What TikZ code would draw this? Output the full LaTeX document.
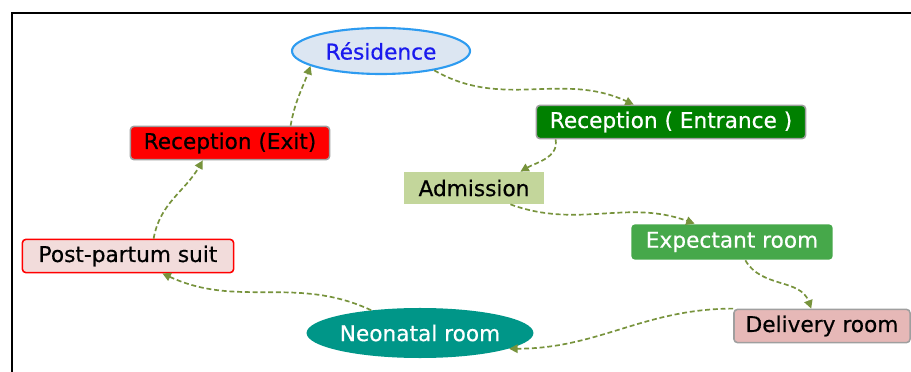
\documentclass[tikz,border=0pt]{standalone}
\usepackage{fontspec}
\setmainfont{DejaVu Sans}
\newfontfamily\roomfont{DejaVu Sans}[FakeBold=0.5]
\usetikzlibrary{shapes.geometric,arrows.meta}

\definecolor{flowgreen}{HTML}{77933C}
\definecolor{resfill}{HTML}{DCE6F2}
\definecolor{resline}{HTML}{2D9BF0}
\definecolor{restext}{HTML}{1A1AEE}
\definecolor{entrfill}{HTML}{008000}
\definecolor{admfill}{HTML}{C3D69B}
\definecolor{expfill}{HTML}{46A84A}
\definecolor{postfill}{HTML}{F2DCDB}
\definecolor{neofill}{HTML}{009688}
\definecolor{delfill}{HTML}{E6B8B7}

\tikzset{
    room/.style={rectangle, draw=gray!75, line width=1.1pt, rounded corners=2.5pt, inner sep=0pt, minimum height=0.83cm, font=\roomfont\fontsize{15.4}{18}\selectfont},
    hall/.style={ellipse, inner sep=0pt, font=\roomfont\fontsize{15.4}{18}\selectfont},
    flow/.style={draw=flowgreen, line width=1.2pt, dash pattern=on 3.5pt off 2pt, -{Triangle[length=6pt,width=6pt]}},
}

\begin{document}
\begin{tikzpicture}[x=0.025cm,y=-0.025cm]
    \useasboundingbox (0,0) rectangle (911,372);
    \draw[line width=1.4pt] (911,13) -- (12,13) -- (12,372);

    \node[hall, fill=resfill, draw=resline, line width=1.5pt, text=restext, minimum width=4.45cm, minimum height=1.15cm] (res) at (381,51) {Résidence};
    \node[room, fill=entrfill, text=white, minimum width=6.73cm] (entrance) at (671,122) {Reception ( Entrance )};
    \node[room, fill=red, minimum width=4.98cm] (exit) at (230,143) {Reception (Exit)};
    \node[room, fill=admfill, draw=none, rounded corners=0pt, minimum width=3.48cm, minimum height=0.78cm] (admission) at (474,188) {Admission};
    \node[room, fill=expfill, draw=none, text=white, minimum width=5.03cm, minimum height=0.88cm] (expectant) at (732,242) {Expectant room};
    \node[room, fill=postfill, draw=red, minimum width=5.28cm] (postpartum) at (128,256) {Post-partum suit};
    \node[hall, fill=neofill, text=white, minimum width=5.18cm, minimum height=1.25cm] (neonatal) at (420,333) {Neonatal room};
    \node[room, fill=delfill, minimum width=4.4cm] (delivery) at (822,326) {Delivery room};

    \draw[flow] (res.-20) to[out=-30,in=155] (entrance.155);
    \draw[flow] ([xshift=0.5cm]entrance.south west) to[out=-80,in=30] ([xshift=-0.6cm]admission.north east);
    \draw[flow] ([xshift=-0.85cm]admission.south east) to[out=-20,in=160] ([xshift=1.6cm]expectant.north west);
    \draw[flow] ([xshift=-2.2cm]expectant.south east) to[out=-60,in=110] ([xshift=1.95cm]delivery.north west);
    \draw[flow] (delivery.north west) to[out=180,in=0] (neonatal.-10);
    \draw[flow] (neonatal.155) to[out=155,in=-25] ([xshift=-1.8cm]postpartum.south east);
    \draw[flow] ([xshift=3.3cm]postpartum.north west) to[out=80,in=240] ([xshift=1.83cm]exit.south west);
    \draw[flow] (exit.16) to[out=80,in=250] (res.192);
\end{tikzpicture}
\end{document}
